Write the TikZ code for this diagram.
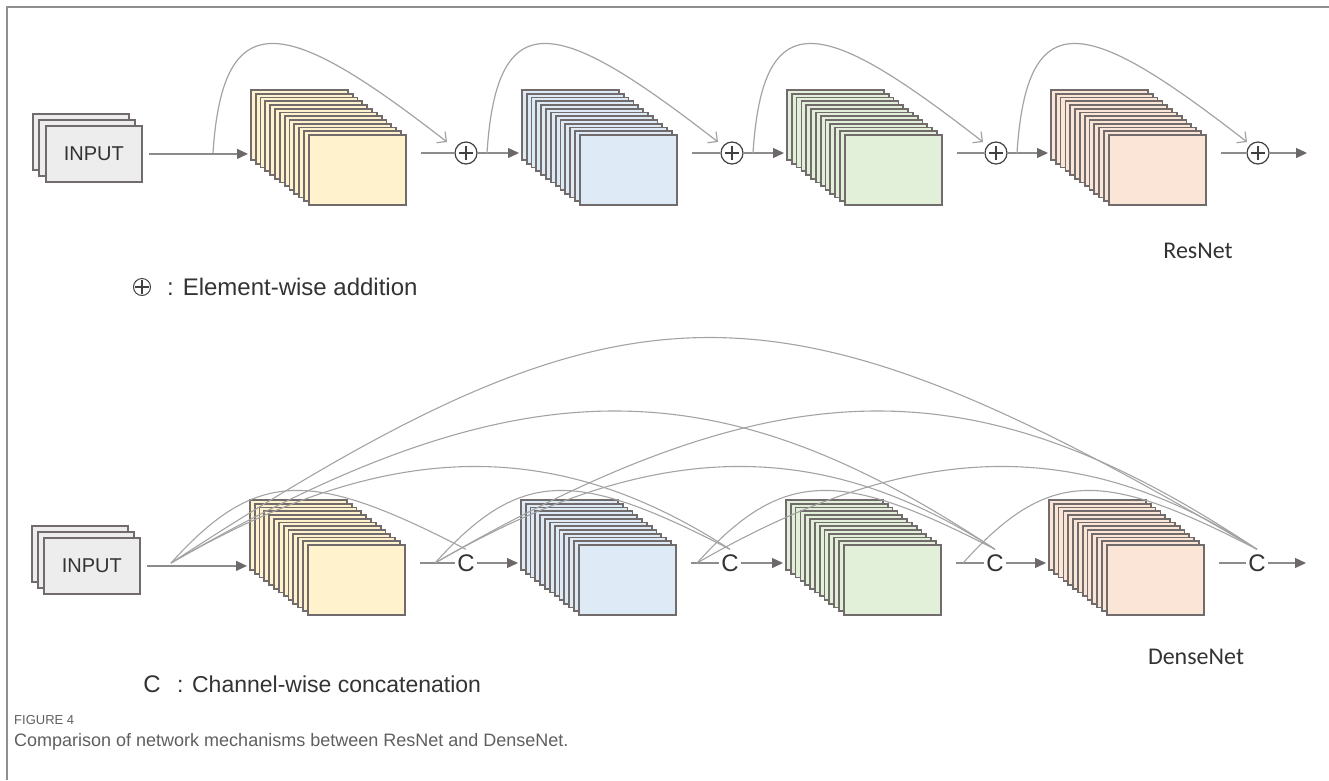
\documentclass[tikz,border=0pt]{standalone}
\usepackage{fontspec}
\setmainfont{Liberation Sans}
\newfontfamily\netfont{Carlito}
\usetikzlibrary{arrows.meta,calc}

\definecolor{rimgray}{HTML}{716B6B}
\definecolor{linegray}{HTML}{8C8C8C}
\definecolor{arcgray}{HTML}{A3A3A3}
\definecolor{tipgray}{HTML}{6E6969}
\definecolor{inputfill}{HTML}{EDEDED}
\definecolor{mapyellow}{HTML}{FFF2CC}
\definecolor{mapblue}{HTML}{DEEBF7}
\definecolor{mapgreen}{HTML}{E2F0D9}
\definecolor{mappeach}{HTML}{FBE5D6}
\definecolor{framegray}{HTML}{8F8F8F}
\definecolor{capgray}{HTML}{5F5F5F}
\definecolor{inkgray}{HTML}{333333}

\tikzset{
  fmap/.style={draw=rimgray, line width=1.8pt, minimum width=97pt, minimum height=70pt, anchor=north west, inner sep=0pt},
  inbox/.style={draw=rimgray, fill=inputfill, line width=1.8pt, minimum width=96pt, minimum height=56pt, anchor=north west, inner sep=0pt},
  flow/.style={draw=linegray, line width=1.3pt},
  arr/.style={flow, -{Triangle[length=11pt,width=10pt,color=tipgray]}},
  skip/.style={draw=arcgray, line width=1.2pt, -{Straight Barb[length=7pt,width=14pt]}},
  dense/.style={draw=arcgray, line width=1.1pt},
  addop/.style={circle, draw=black!75, line width=1.2pt, minimum size=22pt, inner sep=0pt,
    path picture={\draw[black!75, line width=1.2pt]
      ([xshift=-7pt]path picture bounding box.center) -- ([xshift=7pt]path picture bounding box.center)
      ([yshift=-7pt]path picture bounding box.center) -- ([yshift=7pt]path picture bounding box.center);}},
  catop/.style={font=\fontsize{24}{28}\selectfont, text=inkgray, inner xsep=2pt, inner ysep=5pt},
  legend/.style={font=\fontsize{24}{28}\selectfont, text=inkgray, inner sep=0pt, anchor=west},
  netname/.style={font=\netfont\fontsize{24}{28}\selectfont, text=inkgray},
  intext/.style={font=\fontsize{20}{24}\selectfont, text=inkgray},
}

% stack of feature maps: name, x, y, fill
\newcommand{\mapstack}[4]{%
  \foreach \k in {0,...,12}{
    \node[fmap, fill=#4] (#1-\k) at ({#2+4.83*\k},{#3+3.75*\k}) {};
  }
}

\begin{document}
\begin{tikzpicture}[x=1pt, y=-1pt]
\useasboundingbox (0,0) rectangle (1329,780);

% page frame
\draw[framegray, line width=2pt] (7,780) -- (7,7) -- (1329,7);

% ---------------- ResNet ----------------
\node[inbox] (rin-a) at (32,113) {};
\node[inbox] (rin-b) at (38,119) {};
\node[inbox] (rin-c) at (45,125) {};
\node[intext] at (rin-c.center) {INPUT};

\mapstack{rb1}{250}{89}{mapyellow}
\mapstack{rb2}{521}{89}{mapblue}
\mapstack{rb3}{786}{89}{mapgreen}
\mapstack{rb4}{1050}{89}{mappeach}

\node[addop] (rp1) at (466,153) {};
\node[addop] (rp2) at (732,153) {};
\node[addop] (rp3) at (996,153) {};
\node[addop] (rp4) at (1258,153) {};

\coordinate (rs0) at (213,153);
\coordinate (rs1) at (487,153);
\coordinate (rs2) at (753,153);
\coordinate (rs3) at (1017,153);
\coordinate (rs-e1) at (447,142);
\coordinate (rs-e2) at (718,142);
\coordinate (rs-e3) at (983,142);
\coordinate (rs-e4) at (1247,142);
\coordinate (rs-out) at (1307,153);

% main path
\draw[arr, shorten >=2pt] ([xshift=6pt]rin-c.east) -- (rin-c.east -| rb1-0.west);
\draw[flow] ($(rb1-12.east |- rp1)+(14,0)$) -- (rp1);
\draw[arr, shorten >=2pt] (rp1) -- (rp1 -| rb2-0.west);
\draw[flow] ($(rb2-12.east |- rp2)+(14,0)$) -- (rp2);
\draw[arr, shorten >=2pt] (rp2) -- (rp2 -| rb3-0.west);
\draw[flow] ($(rb3-12.east |- rp3)+(14,0)$) -- (rp3);
\draw[arr, shorten >=2pt] (rp3) -- (rp3 -| rb4-0.west);
\draw[flow] ($(rb4-12.east |- rp4)+(14,0)$) -- (rp4);
\draw[arr] (rp4) -- (rs-out);

% identity shortcuts
\draw[skip] (rs0) .. controls +(10,-155) and +(-157,-122) .. (rs-e1);
\draw[skip] (rs1) .. controls +(10,-155) and +(-157,-122) .. (rs-e2);
\draw[skip] (rs2) .. controls +(10,-155) and +(-157,-122) .. (rs-e3);
\draw[skip] (rs3) .. controls +(10,-155) and +(-157,-122) .. (rs-e4);

\node[netname] (rn-name) at (1198,251) {ResNet};

\node[addop, minimum size=17pt, line width=1pt] (lg-add) at (142,287) {};
\node[legend] (lg-addtxt) at (167,287) {: Element-wise addition};

% ---------------- DenseNet ----------------
\node[inbox] (din-a) at (31,525) {};
\node[inbox] (din-b) at (37,531) {};
\node[inbox] (din-c) at (43,537) {};
\node[intext] at (din-c.center) {INPUT};

\mapstack{db1}{249}{499}{mapyellow}
\mapstack{db2}{520}{499}{mapblue}
\mapstack{db3}{785}{499}{mapgreen}
\mapstack{db4}{1048}{499}{mappeach}

\node[catop] (dc1) at (466,563) {C};
\node[catop] (dc2) at (730,563) {C};
\node[catop] (dc3) at (995,563) {C};
\node[catop] (dc4) at (1257,563) {C};

\coordinate (ds0) at (171,563);
\coordinate (ds1) at (435,563);
\coordinate (ds2) at (697,563);
\coordinate (ds3) at (963,563);
\coordinate (dn-out) at (1306,563);

% main path
\draw[arr, shorten >=2pt] ([xshift=6pt]din-c.east) -- (din-c.east -| db1-0.west);
\draw[flow] ($(db1-12.east |- dc1)+(14,0)$) -- (dc1);
\draw[arr, shorten >=2pt] (dc1) -- (dc1 -| db2-0.west);
\draw[flow] ($(db2-12.east |- dc2)+(14,0)$) -- (dc2);
\draw[arr, shorten >=2pt] (dc2) -- (dc2 -| db3-0.west);
\draw[flow] ($(db3-12.east |- dc3)+(14,0)$) -- (dc3);
\draw[arr, shorten >=2pt] (dc3) -- (dc3 -| db4-0.west);
\draw[flow] ($(db4-12.east |- dc4)+(14,0)$) -- (dc4);
\draw[arr] (dc4) -- (dn-out);

% dense connections
\draw[dense] (ds0) .. controls +(86,-95) and +(-155,-80) .. (dc1.north);
\draw[dense] (ds0) .. controls +(220,-127) and +(-173,-112) .. (dc2.north);
\draw[dense] (ds0) .. controls +(348,-201) and +(-280,-186) .. (dc3.north);
\draw[dense] (ds0) .. controls +(460,-299) and +(-485,-284) .. (dc4.north);
\draw[dense] (ds1) .. controls +(86,-95) and +(-155,-80) .. (dc2.north);
\draw[dense] (ds1) .. controls +(220,-127) and +(-173,-112) .. (dc3.north);
\draw[dense] (ds1) .. controls +(348,-201) and +(-280,-186) .. (dc4.north);
\draw[dense] (ds2) .. controls +(86,-95) and +(-155,-80) .. (dc3.north);
\draw[dense] (ds2) .. controls +(220,-127) and +(-173,-112) .. (dc4.north);
\draw[dense] (ds3) .. controls +(86,-95) and +(-155,-80) .. (dc4.north);

\node[netname] (dn-name) at (1196,657) {DenseNet};

\node[catop] (lg-cat) at (152,684) {C};
\node[legend, font=\fontsize{23}{28}\selectfont] (lg-cattxt) at (177,684) {: Channel-wise concatenation};

% caption
\node[anchor=west, inner sep=0pt, text=capgray, font=\fontsize{13}{15}\selectfont] (fig-no) at (14,720) {FIGURE 4};
\node[anchor=west, inner sep=0pt, text=capgray, font=\fontsize{18}{21}\selectfont] (fig-cap) at (14,742) {Comparison of network mechanisms between ResNet and DenseNet.};

\end{tikzpicture}
\end{document}
